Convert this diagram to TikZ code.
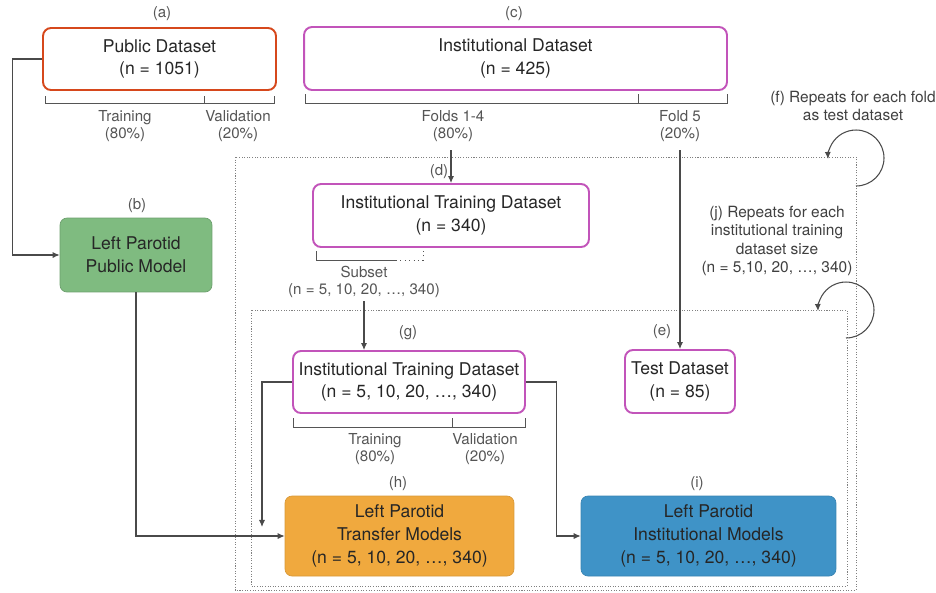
\documentclass[tikz,border=0pt]{standalone}
\usepackage{fontspec}
\setmainfont{TeX Gyre Heros}
\usepackage{xcolor}
\usetikzlibrary{arrows.meta}
\definecolor{pubred}{HTML}{D6481C}
\definecolor{instmag}{HTML}{C254BA}
\definecolor{modgreen}{HTML}{7FBB80}
\definecolor{modorange}{HTML}{F0A93E}
\definecolor{modblue}{HTML}{3F93C7}
\definecolor{labgray}{HTML}{555555}
\definecolor{linegray}{HTML}{4A4A4A}

\begin{document}
\begin{tikzpicture}[x=0.02cm,y=0.02cm,
	txt/.style={font=\fontsize{10}{13}\selectfont,text=black!85,align=center},
	databox/.style={txt,draw,rounded corners=0.16cm,line width=1.1pt,inner sep=0pt},
	modelbox/.style={txt,rounded corners=0.14cm,inner sep=0pt,line width=0.4pt},
	lab/.style={font=\fontsize{8.6}{10}\selectfont,text=labgray,align=center,inner sep=0pt},
	note/.style={font=\fontsize{8.8}{10.6}\selectfont,text=black!75,align=center,inner sep=0pt},
	split/.style={draw=labgray,line width=0.5pt},
	conn/.style={draw=linegray,line width=0.6pt},
	arr/.style={conn,-{Latex[length=4pt,width=3.5pt]}},
	loopbox/.style={draw=gray,dash pattern=on 0.6pt off 0.9pt,line width=0.45pt}]
	\useasboundingbox (0,0) rectangle (936,-592);
	% loop regions
	\draw [loopbox] (235,-157) rectangle (856,-590);
	\draw [loopbox] (251,-310) rectangle (847,-586);
	% datasets
	\node [databox,draw=pubred,minimum width=4.66cm,minimum height=1.24cm] (pub) at (159.5,-59) {Public Dataset\\(n = 1051)};
	\node [databox,draw=instmag,minimum width=8.46cm,minimum height=1.26cm] (inst) at (515.5,-58.5) {Institutional Dataset\\(n = 425)};
	\node [databox,draw=instmag,minimum width=5.52cm,minimum height=1.26cm] (train) at (451,-215.5) {Institutional Training Dataset\\(n = 340)};
	\node [databox,draw=instmag,minimum width=4.64cm,minimum height=1.24cm] (sub) at (409,-382) {Institutional Training Dataset\\(n = 5, 10, 20, …, 340)};
	\node [databox,draw=instmag,minimum width=2.2cm,minimum height=1.26cm] (test) at (680,-381.5) {Test Dataset\\(n = 85)};
	% models
	\node [modelbox,fill=modgreen,draw=modgreen!85!black,minimum width=3.04cm,minimum height=1.48cm] (pubmod) at (136,-255) {Left Parotid\\Public Model};
	\node [modelbox,fill=modorange,draw=modorange!90!black,minimum width=4.58cm,minimum height=1.6cm] (transmod) at (399.5,-536) {Left Parotid\\Transfer Models\\(n = 5, 10, 20, …, 340)};
	\node [modelbox,fill=modblue,draw=modblue!90!black,minimum width=5.1cm,minimum height=1.6cm] (instmod) at (708.5,-536) {Left Parotid\\Institutional Models\\(n = 5, 10, 20, …, 340)};
	% letters
	\node [lab] (la) at (162,-14) {(a)};
	\node [lab] (lb) at (137,-206) {(b)};
	\node [lab] (lc) at (514,-14) {(c)};
	\node [lab] (ld) at (439,-172) {(d)};
	\node [lab] (le) at (662,-332) {(e)};
	\node [lab] (lg) at (408,-333) {(g)};
	\node [lab] (lh) at (398,-484) {(h)};
	\node [lab] (li) at (697,-484) {(i)};
	% splits
	\draw [split] (45,-96) |- (274,-103) -- (274,-96);
	\draw [split] (204,-103) -- (204,-96);
	\node [lab] (ptrain) at (125,-126) {Training\\(80\%)};
	\node [lab] (pval) at (238,-126) {Validation\\(20\%)};
	\draw [split] (305,-94) |- (727,-103) -- (727,-94);
	\draw [split] (638,-103) -- (638,-94);
	\node [lab] (folds) at (453,-126) {Folds 1-4\\(80\%)};
	\node [lab] (fold5) at (680,-126) {Fold 5\\(20\%)};
	\draw [split] (316,-251) |- (396,-260);
	\draw [split,dotted] (396,-260) -- (423,-260) -- (423,-251);
	\node [lab] (subset) at (364,-282) {Subset\\(n = 5, 10, 20, …, 340)};
	\draw [split] (293,-418) |- (525,-427) -- (525,-418);
	\draw [split] (452,-427) -- (452,-418);
	\node [lab] (itrain) at (375,-449) {Training\\(80\%)};
	\node [lab] (ival) at (485,-449) {Validation\\(20\%)};
	% repeat notes
	\node [note] (nf) at (853,-106) {(f) Repeats for each fold\\as test dataset};
	\node [note] (nj) at (777,-241) {(j) Repeats for each\\institutional training\\dataset size\\(n = 5,10, 20, …, 340)};
	\draw [arr] (856,-186) arc [start angle=-90,end angle=182,radius=0.56cm];
	\draw [arr] (846,-338) arc [start angle=-90,end angle=182,radius=0.56cm];
	% connectors
	\coordinate (ffold) at (451,-150);
	\coordinate (ftest) at (680,-150);
	\coordinate (fsub) at (364,-301);
	\coordinate (gend) at (262,-527);
	\draw [arr] (pub.west) -- ++(-30,0) |- (pubmod.west);
	\draw [arr] (pubmod.south) |- (transmod.west);
	\draw [arr] (ffold) -- (train.north);
	\draw [arr] (ftest) -- (test.north);
	\draw [arr] (fsub) -- (fsub |- sub.north);
	\draw [arr] (sub.west) -| (gend);
	\draw [arr] (sub.east) -- ++(31,0) |- (instmod.west);
\end{tikzpicture}
\end{document}
